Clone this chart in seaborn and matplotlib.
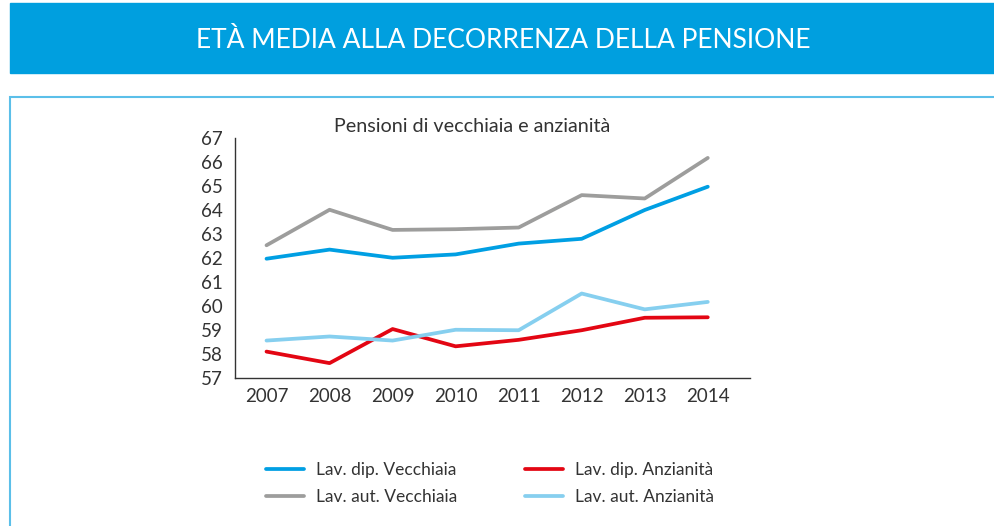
import numpy as np
import pandas as pd
import matplotlib.pyplot as plt
import seaborn as sns
from matplotlib.patches import Rectangle
from matplotlib.lines import Line2D

sns.set_style("white")
plt.rcParams['font.family'] = ['Lato', 'DejaVu Sans']

years = [2007, 2008, 2009, 2010, 2011, 2012, 2013, 2014]
dip_vecchiaia = [61.97, 62.35, 62.01, 62.15, 62.60, 62.80, 64.00, 64.97]
aut_vecchiaia = [62.53, 64.01, 63.17, 63.20, 63.27, 64.62, 64.48, 66.17]
dip_anzianita = [58.10, 57.62, 59.04, 58.32, 58.59, 58.99, 59.51, 59.53]
aut_anzianita = [58.56, 58.73, 58.56, 59.01, 58.99, 60.52, 59.86, 60.17]

series = {
    "Lav. dip. Vecchiaia": dip_vecchiaia,
    "Lav. aut. Vecchiaia": aut_vecchiaia,
    "Lav. dip. Anzianità": dip_anzianita,
    "Lav. aut. Anzianità": aut_anzianita,
}
colors = {
    "Lav. dip. Vecchiaia": "#009fe3",
    "Lav. aut. Vecchiaia": "#9d9d9c",
    "Lav. dip. Anzianità": "#e30613",
    "Lav. aut. Anzianità": "#86cfef",
}

df = pd.DataFrame([(k, y, v) for k, vals in series.items() for y, v in zip(years, vals)],
                  columns=["serie", "anno", "eta"])

fig = plt.figure(figsize=(9.95, 5.26), dpi=100)

# header band and frame
fig.patches.append(Rectangle((10 / 995, 1 - 73 / 526), 985 / 995, 70 / 526,
                             transform=fig.transFigure, color="#009fdf", zorder=-2))
fig.patches.append(Rectangle((10 / 995, -0.02), 1.0, 1 - 97 / 526 + 0.02,
                             transform=fig.transFigure, facecolor="white",
                             edgecolor="#5bbfe9", linewidth=1.5, zorder=-2))
fig.text(503 / 995, 1 - 40 / 526, "ETÀ MEDIA ALLA DECORRENZA DELLA PENSIONE",
         color="white", fontsize=19, ha="center", va="center")
fig.text(472 / 995, 1 - 127 / 526, "Pensioni di vecchiaia e anzianità",
         color="#333333", fontsize=14.2, ha="center", va="center")

ax = fig.add_axes([235 / 995, 1 - 378 / 526, 515 / 995, 240 / 526])
ax.set_zorder(2)
ax.patch.set_alpha(0)
sns.lineplot(data=df, x="anno", y="eta", hue="serie", palette=colors,
             linewidth=2.7, ax=ax, legend=False)

ax.set_ylim(57, 67)
ax.set_xlim(2006.5, 2014.67)
ax.set_yticks(np.arange(57, 68, 1))
ax.set_xticks(years)
ax.set_xticks([y + 0.5 for y in years[:-1]], minor=True)
ax.tick_params(axis="x", which="major", length=0, pad=7, labelsize=13.5, colors="#333333")
ax.tick_params(axis="x", which="minor", length=6, width=1, color="#333333", direction="out")
ax.tick_params(axis="y", length=6, width=1, color="#333333", direction="out",
               labelsize=13.5, labelcolor="#333333", pad=3)
ax.set_xlabel("")
ax.set_ylabel("")
for s in ["top", "right"]:
    ax.spines[s].set_visible(False)
for s in ["left", "bottom"]:
    ax.spines[s].set_color("#333333")
    ax.spines[s].set_linewidth(1)

handles = [Line2D([], [], color=colors[k], linewidth=2.7) for k in series]
fig.legend(handles, list(series.keys()), ncol=2, frameon=False,
           loc="upper left", bbox_to_anchor=(250 / 995, 1 - 446 / 526),
           fontsize=12.5, handlelength=2.2, handletextpad=0.7,
           columnspacing=3.9, labelspacing=0.65, labelcolor="#333333")

fig.savefig("out.png", dpi=100)
